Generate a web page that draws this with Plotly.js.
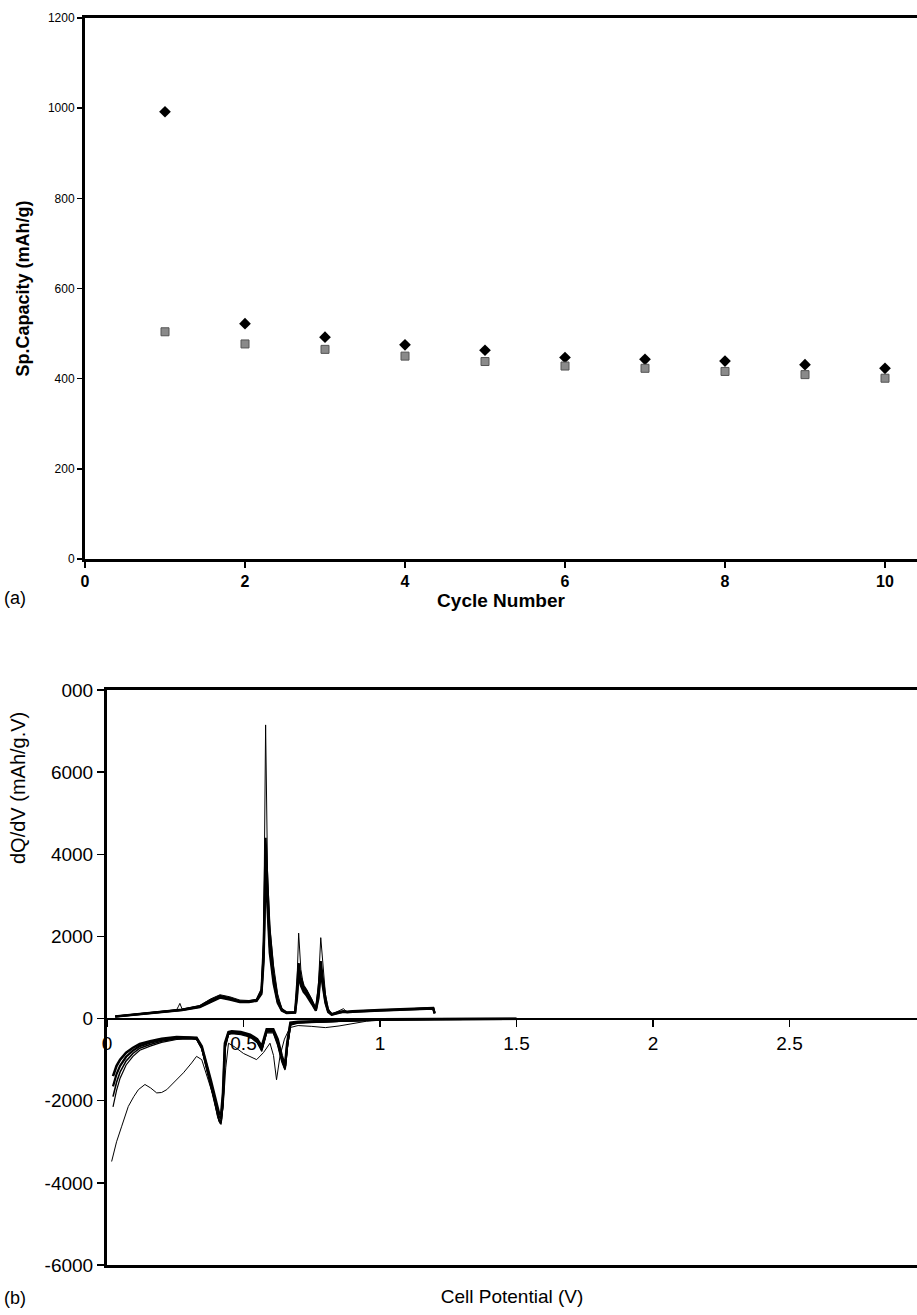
<!DOCTYPE html>
<html>
<head>
<meta charset="utf-8">
<script src="https://cdn.plot.ly/plotly-3.0.1.min.js"></script>
<style>
html,body{margin:0;padding:0;background:#fff;overflow:hidden;}
#chart{width:917px;height:1315px;}
</style>
</head>
<body>
<div id="chart"></div>
<script>
// ---- Panel (a): specific capacity vs cycle number ----
var cycles = [1, 2, 3, 4, 5, 6, 7, 8, 9, 10];
var capDiamond = [992, 522, 492, 475, 463, 447, 443, 439, 431, 423];
var capSquare  = [504, 477, 465, 450, 438, 428, 423, 416, 409, 401];
var capTicks = [0, 200, 400, 600, 800, 1000, 1200];
var cycleTicks = [0, 2, 4, 6, 8, 10];

// ---- Panel (b): dQ/dV vs cell potential ----
var chargeV = [0.03, 0.10, 0.20, 0.255, 0.262, 0.267, 0.275, 0.34, 0.38, 0.414, 0.45, 0.487, 0.52, 0.548, 0.566, 0.574, 0.581, 0.588, 0.596, 0.61, 0.625, 0.64, 0.658, 0.689, 0.696, 0.702, 0.71, 0.72, 0.731, 0.75, 0.765, 0.775, 0.783, 0.79, 0.80, 0.81, 0.823, 0.85, 0.866, 0.88, 0.9, 1.0, 1.1, 1.195, 1.2];
var charge1 = [60, 110, 180, 215, 300, 370, 230, 320, 480, 580, 530, 450, 440, 470, 720, 2000, 7150, 3600, 2300, 1300, 600, 250, 150, 160, 900, 2080, 1200, 800, 700, 480, 250, 900, 1970, 1300, 600, 250, 110, 190, 240, 150, 170, 200, 230, 270, 150];
var charge2 = [55, 105, 175, 205, 210, 212, 218, 300, 450, 550, 500, 420, 420, 450, 700, 1800, 4400, 3200, 2100, 1100, 480, 230, 150, 160, 700, 1350, 1000, 800, 680, 450, 230, 700, 1400, 1000, 500, 200, 110, 160, 180, 170, 180, 210, 235, 260, 140];
var charge3 = [50, 100, 170, 200, 205, 207, 212, 290, 430, 530, 480, 410, 410, 440, 650, 1600, 4000, 2900, 1800, 950, 420, 210, 140, 150, 600, 1200, 900, 720, 620, 400, 210, 600, 1250, 900, 420, 180, 100, 150, 170, 160, 170, 200, 225, 250, 130];
var charge4 = [45, 95, 165, 195, 200, 202, 207, 280, 410, 510, 460, 400, 400, 430, 600, 1400, 3600, 2600, 1600, 850, 380, 190, 130, 140, 500, 1050, 800, 650, 560, 360, 190, 500, 1150, 800, 380, 160, 90, 140, 160, 150, 160, 190, 215, 240, 120];

var dis1V = [0.017, 0.035, 0.054, 0.078, 0.098, 0.115, 0.139, 0.16, 0.182, 0.20, 0.219, 0.25, 0.28, 0.31, 0.328, 0.347, 0.365, 0.39, 0.405, 0.415, 0.425, 0.435, 0.445, 0.47, 0.50, 0.53, 0.548, 0.573, 0.597, 0.61, 0.621, 0.634, 0.65, 0.67, 0.70, 0.75, 0.80, 0.85, 0.90, 0.95, 1.0, 1.1, 1.3, 1.5];
var dis1 = [-3480, -3000, -2620, -2140, -1900, -1730, -1605, -1690, -1810, -1800, -1730, -1530, -1320, -1080, -920, -1000, -1400, -1900, -2400, -2560, -2200, -1200, -600, -700, -850, -950, -1000, -830, -600, -900, -1490, -900, -500, -220, -170, -190, -220, -180, -120, -65, -40, -30, -30, -25];

var disV = [0.022, 0.035, 0.048, 0.07, 0.095, 0.12, 0.158, 0.2, 0.255, 0.3, 0.328, 0.347, 0.365, 0.38, 0.395, 0.41, 0.418, 0.425, 0.432, 0.445, 0.457, 0.49, 0.524, 0.55, 0.567, 0.585, 0.609, 0.625, 0.64, 0.652, 0.66, 0.672, 0.7, 0.8, 0.9, 1.0, 1.2, 1.5];
var dis2 = [-1400, -1150, -1000, -830, -710, -620, -550, -490, -450, -450, -465, -675, -1100, -1500, -1900, -2300, -2350, -1800, -600, -330, -310, -330, -390, -500, -675, -260, -260, -500, -900, -1160, -600, -100, -80, -60, -40, -20, -10, -5];
var dis3 = [-1650, -1350, -1150, -930, -780, -670, -590, -520, -470, -465, -480, -700, -1150, -1550, -1950, -2380, -2450, -1900, -650, -350, -330, -350, -410, -530, -720, -290, -290, -550, -950, -1200, -650, -120, -90, -65, -45, -25, -12, -6];
var dis4 = [-1900, -1550, -1300, -1030, -850, -720, -630, -550, -490, -480, -495, -720, -1200, -1600, -2000, -2450, -2530, -2000, -700, -370, -350, -370, -430, -560, -760, -320, -320, -600, -1000, -1230, -700, -140, -100, -70, -50, -30, -15, -8];
var dis5 = [-2150, -1750, -1450, -1130, -920, -770, -670, -580, -510, -495, -510, -740, -1250, -1650, -2050, -2500, -2580, -2100, -750, -390, -370, -390, -450, -590, -800, -350, -350, -650, -1050, -1250, -750, -160, -110, -75, -55, -35, -20, -10];

var dqTicks = [-6000, -4000, -2000, 0, 2000, 4000, 6000, 8000];
var dqTickText = ['-6000', '-4000', '-2000', '0', '2000', '4000', '6000', '000'];

var FONT = 'Liberation Sans, Arial, sans-serif';
var H = 1315, W = 917;
function py(p){ return 1 - p / H; }
function px(p){ return p / W; }

var traces = [
  {x: cycles, y: capDiamond, type: 'scatter', mode: 'markers', name: 'diamond series',
   marker: {symbol: 'diamond', size: 9, color: '#000'}, xaxis: 'x', yaxis: 'y'},
  {x: cycles, y: capSquare, type: 'scatter', mode: 'markers', name: 'square series',
   marker: {symbol: 'square', size: 8, color: '#8a8a8a', line: {color: '#555', width: 1}}, xaxis: 'x', yaxis: 'y'}
];
function line(xs, ys, w, xa){
  return {x: xs, y: ys, type: 'scatter', mode: 'lines', line: {color: '#000', width: w},
          xaxis: xa || 'x2', yaxis: 'y2', hoverinfo: 'skip'};
}
traces.push(line(chargeV, charge4, 2.2));
traces.push(line(chargeV, charge3, 2.2));
traces.push(line(chargeV, charge2, 2.2));
traces.push(line(chargeV, charge1, 1));
traces.push(line(disV, dis5, 1.2));
traces.push(line(disV, dis4, 1.6));
traces.push(line(disV, dis3, 2.2));
traces.push(line(disV, dis2, 2.6));
traces.push(line(dis1V, dis1, 1, 'x3'));

var layout = {
  width: W, height: H,
  margin: {l: 0, r: 0, t: 0, b: 0},
  paper_bgcolor: '#fff', plot_bgcolor: '#fff',
  showlegend: false,
  font: {family: FONT, color: '#000'},
  xaxis: {
    domain: [px(85), 1], anchor: 'y', range: [0, 10.4],
    tickvals: cycleTicks, ticks: 'outside', ticklen: 6, tickwidth: 1.5, tickcolor: '#000',
    showline: true, linewidth: 3, linecolor: '#000', mirror: true,
    showgrid: false, zeroline: false, automargin: false,
    tickfont: {size: 16, weight: 700},
    title: {text: 'Cycle Number', font: {size: 19, weight: 700}, standoff: 0}
  },
  yaxis: {
    domain: [py(559), py(18)], anchor: 'x', range: [0, 1200],
    tickvals: capTicks, ticks: 'outside', ticklen: 5, tickwidth: 1.5, tickcolor: '#000',
    showline: true, linewidth: 3, linecolor: '#000', mirror: false,
    showgrid: false, zeroline: false, automargin: false,
    tickfont: {size: 12},
    title: {text: 'Sp.Capacity (mAh/g)', font: {size: 18, weight: 700}, standoff: 14}
  },
  xaxis2: {
    domain: [px(107), 1], anchor: 'y2', range: [0, 2.967],
    showticklabels: false, ticks: '',
    showline: true, linewidth: 3, linecolor: '#000', mirror: true,
    showgrid: false, zeroline: false, automargin: false,
    title: {text: 'Cell Potential (V)', font: {size: 19}, standoff: 23}
  },
  xaxis3: {
    overlaying: 'x2', anchor: 'free', position: py(1019), range: [0, 2.967],
    dtick: 0.5, tick0: 0, ticks: 'outside', ticklen: 7, tickwidth: 1.5, tickcolor: '#000',
    showline: true, linewidth: 2, linecolor: '#000',
    showgrid: false, zeroline: false, automargin: false,
    tickfont: {size: 19}
  },
  yaxis2: {
    domain: [py(1265), py(690)], anchor: 'x2', range: [-6000, 8000],
    tickvals: dqTicks, ticktext: dqTickText,
    ticks: 'outside', ticklen: 7, tickwidth: 1.5, tickcolor: '#000',
    showline: true, linewidth: 3, linecolor: '#000', mirror: false,
    showgrid: false, zeroline: false, automargin: false,
    tickfont: {size: 19}
  },
  annotations: [
    {text: '(a)', xref: 'paper', yref: 'paper', x: px(15), y: py(598), xanchor: 'center', yanchor: 'middle',
     showarrow: false, font: {size: 18}},
    {text: '(b)', xref: 'paper', yref: 'paper', x: px(15), y: py(1298), xanchor: 'center', yanchor: 'middle',
     showarrow: false, font: {size: 18}},
    {text: 'dQ/dV (mAh/g.V)', xref: 'paper', yref: 'paper', x: px(18), y: py(788), xanchor: 'center', yanchor: 'middle',
     textangle: -90, showarrow: false, font: {size: 20}}
  ]
};

Plotly.newPlot('chart', traces, layout, {displayModeBar: false, staticPlot: true});
</script>
</body>
</html>
